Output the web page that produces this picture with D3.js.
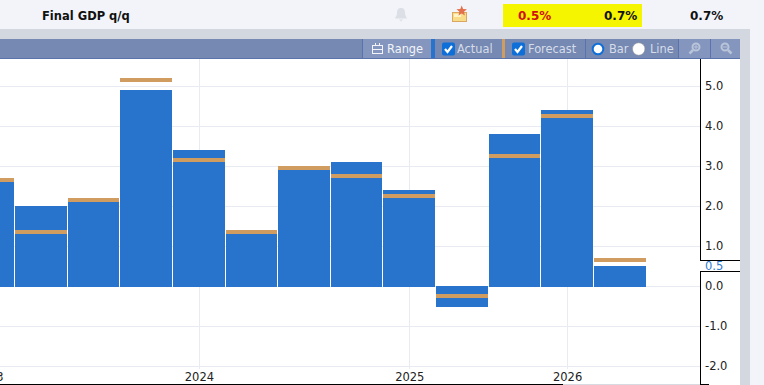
<!DOCTYPE html>
<html>
<head>
<meta charset="utf-8">
<script src="https://cdn.jsdelivr.net/npm/d3@7"></script>
<style>
  html, body { margin: 0; padding: 0; background: #f3f4f9; overflow: hidden; }
  text { font-family: "DejaVu Sans", sans-serif; }
</style>
</head>
<body>
<svg id="chart" width="764" height="385"></svg>
<script>
const quarters = ['2023a', '2023b', '2023c', '2023d', '2024a', '2024b', '2024c', '2024d', '2025a', '2025b', '2025c', '2026a', '2026b'];
const actual = [2.6, 2.0, 2.1, 4.9, 3.4, 1.3, 2.9, 3.1, 2.4, -0.5, 3.8, 4.4, 0.5];
const forecast = [2.7, 1.4, 2.2, 5.2, 3.2, 1.4, 3.0, 2.8, 2.3, -0.2, 3.3, 4.3, 0.7];
const yTicks = [5, 4, 3, 2, 1, 0, -1, -2];
const yearTicks = [['2023a', '2023'], ['2024a', '2024'], ['2025a', '2025'], ['2026a', '2026']];

const svg = d3.select('#chart');

// page frame
svg.append('rect').attr('x', 0).attr('y', 29).attr('width', 750).attr('height', 356).attr('fill', '#d3d7e0');
svg.append('rect').attr('x', 0).attr('y', 59).attr('width', 740).attr('height', 326).attr('fill', '#fff');

const x = d3.scaleBand()
  .domain(quarters)
  .range([-37.3, 646.5]);
const y = d3.scaleLinear()
  .domain([-2, 5])
  .range([366, 86]);
const barLeft = q => Math.round(x(q));
const barWidth = q => Math.round(x(q) + x.step()) - Math.round(x(q)) - 1;

// grid
const grid = svg.append('g').attr('stroke', '#e9ebf3').attr('stroke-width', 1);
grid.selectAll('line.h')
  .data(yTicks)
  .enter().append('line')
  .attr('class', 'h')
  .attr('x1', 0).attr('x2', 700)
  .attr('y1', d => y(d) + 0.5).attr('y2', d => y(d) + 0.5);
grid.selectAll('line.v')
  .data(yearTicks)
  .enter().append('line')
  .attr('class', 'v')
  .attr('x1', d => Math.floor(x(d[0]) + x.step() / 2) + 0.5)
  .attr('x2', d => Math.floor(x(d[0]) + x.step() / 2) + 0.5)
  .attr('y1', 59).attr('y2', 369);

// bars
svg.selectAll('rect.actual')
  .data(actual)
  .enter().append('rect')
  .attr('class', 'actual')
  .attr('x', (d, i) => barLeft(quarters[i]))
  .attr('width', (d, i) => barWidth(quarters[i]))
  .attr('y', d => Math.min(y(d), y(0)))
  .attr('height', d => Math.abs(y(d) - y(0)) + 1)
  .attr('fill', '#2874cc');
svg.selectAll('rect.forecast')
  .data(forecast)
  .enter().append('rect')
  .attr('class', 'forecast')
  .attr('x', (d, i) => barLeft(quarters[i]))
  .attr('width', (d, i) => barWidth(quarters[i]))
  .attr('y', d => y(d))
  .attr('height', 4)
  .attr('fill', '#d19c60');

// year labels
svg.selectAll('text.year')
  .data(yearTicks)
  .enter().append('text')
  .attr('class', 'year')
  .attr('x', d => x(d[0]) + x.step() / 2)
  .attr('y', 381)
  .attr('text-anchor', 'middle')
  .attr('font-size', 11.5)
  .attr('fill', '#222')
  .text(d => d[1]);

// right axis
svg.append('line').attr('x1', 700.5).attr('x2', 700.5).attr('y1', 59).attr('y2', 385).attr('stroke', '#000');
svg.append('line').attr('x1', 0).attr('x2', 563).attr('y1', 384.5).attr('y2', 384.5).attr('stroke', '#000');
svg.append('line').attr('x1', 563).attr('x2', 700).attr('y1', 384.5).attr('y2', 384.5).attr('stroke', '#d8dae2');
svg.append('line').attr('x1', 700).attr('x2', 709).attr('y1', 384.5).attr('y2', 384.5).attr('stroke', '#000');
svg.selectAll('text.ytick')
  .data(yTicks)
  .enter().append('text')
  .attr('class', 'ytick')
  .attr('x', 705)
  .attr('y', d => y(d) + 4)
  .attr('font-size', 11.5)
  .attr('fill', '#222')
  .text(d => d.toFixed(1));

// last value tag
svg.append('rect').attr('x', 700).attr('y', 261).attr('width', 40).attr('height', 10).attr('fill', '#fff');
svg.append('line').attr('x1', 700).attr('x2', 740).attr('y1', 260.5).attr('y2', 260.5).attr('stroke', '#000');
svg.append('line').attr('x1', 700).attr('x2', 740).attr('y1', 271.5).attr('y2', 271.5).attr('stroke', '#000');
svg.append('text')
  .attr('x', 705).attr('y', 270)
  .attr('font-size', 11.5).attr('fill', '#2f7bd6')
  .text(actual[actual.length - 1].toFixed(1));

// toolbar
svg.append('rect').attr('x', 0).attr('y', 39).attr('width', 740).attr('height', 19).attr('fill', '#7589b2');
svg.append('rect').attr('x', 0).attr('y', 58).attr('width', 740).attr('height', 1).attr('fill', '#5a74ab');
svg.append('rect').attr('x', 363).attr('y', 39).attr('width', 68).attr('height', 19).attr('fill', '#8496bd');
svg.append('rect').attr('x', 431).attr('y', 39).attr('width', 4).attr('height', 19).attr('fill', '#2874cc');
svg.append('rect').attr('x', 502).attr('y', 39).attr('width', 3).attr('height', 19).attr('fill', '#d19c60');
svg.append('rect').attr('x', 679).attr('y', 39).attr('width', 61).attr('height', 19).attr('fill', '#8496bd');
[362, 585, 678, 710].forEach(d => {
  svg.append('rect').attr('x', d).attr('y', 39).attr('width', 1).attr('height', 19).attr('fill', '#5a74ab');
});

const toolbarLabels = [['Range', 387], ['Actual', 457], ['Forecast', 528], ['Bar', 609], ['Line', 650]];
svg.selectAll('text.tool')
  .data(toolbarLabels)
  .enter().append('text')
  .attr('class', 'tool')
  .attr('x', d => d[1]).attr('y', 53)
  .attr('font-size', 11.4)
  .attr('fill', (d, i) => i === 0 ? '#f2f4f9' : '#d6dcea')
  .text(d => d[0]);

// calendar icon
const cal = svg.append('g').attr('fill', 'none').attr('stroke', '#f2f4f9').attr('stroke-width', 1);
cal.append('rect').attr('x', 372.5).attr('y', 45.5).attr('width', 10).attr('height', 8);
cal.append('path').attr('d', 'M372.5 49.5H382.5M375.5 43V45M379.5 43V45');

// checkboxes
[442, 512].forEach(d => {
  svg.append('rect').attr('x', d).attr('y', 42.5).attr('width', 13).attr('height', 13).attr('rx', 2).attr('fill', '#0f6fd8');
  svg.append('path').attr('d', `M${d + 3} 49l2.5 3l4.5 -6`).attr('fill', 'none').attr('stroke', '#fff').attr('stroke-width', 2.2);
});

// radios
svg.append('circle').attr('cx', 598).attr('cy', 49).attr('r', 5.3).attr('fill', '#fff').attr('stroke', '#0f6fd8').attr('stroke-width', 2);
svg.append('circle').attr('cx', 638.7).attr('cy', 49).attr('r', 6.2).attr('fill', '#fff').attr('stroke', '#8c8c8c').attr('stroke-width', 0.5);

// zoom icons, handle goes left on the first and right on the second
[[696, -1, true], [725, 1, false]].forEach(d => {
  const g = svg.append('g').attr('fill', 'none').attr('stroke', '#b9c4da').attr('stroke-width', 2);
  g.append('circle').attr('cx', d[0]).attr('cy', 47).attr('r', 3.5);
  g.append('path').attr('d', `M${d[0] + d[1] * 3} 50l${d[1] * 3.5} 3.5`).attr('stroke-width', 2.5);
  g.append('path').attr('d', d[2] ? `M${d[0] - 2} 47h4M${d[0]} 45v4` : `M${d[0] - 2} 47h4`).attr('stroke-width', 1);
});

// header row
svg.append('text').attr('x', 42).attr('y', 20).attr('font-size', 11.5).attr('font-weight', 'bold').attr('fill', '#111').text('Final GDP q/q');
svg.append('rect').attr('x', 503).attr('y', 4).attr('width', 139).attr('height', 23).attr('fill', '#f5f500');
svg.append('text').attr('x', 518).attr('y', 20).attr('font-size', 12).attr('font-weight', 'bold').attr('fill', '#d01010').text('0.5%');
svg.append('text').attr('x', 604).attr('y', 20).attr('font-size', 12).attr('font-weight', 'bold').attr('fill', '#111').text('0.7%');
svg.append('text').attr('x', 690).attr('y', 20).attr('font-size', 12).attr('font-weight', 'bold').attr('fill', '#111').text('0.7%');

// bell
svg.append('path')
  .attr('d', 'M401 8c-3 0-4 2-4 5c0 2-1 3.500-2 5.500h12c-1-2-2-3.500-2-5.500c0-3-1-5-4-5zM399 19.500h4l-2 2z')
  .attr('fill', '#dcdfe6');

// folder with star
svg.append('rect').attr('x', 452.5).attr('y', 12.5).attr('width', 14).attr('height', 9).attr('fill', '#f8dc8a').attr('stroke', '#d9a760');
svg.append('rect').attr('x', 454).attr('y', 14).attr('width', 7).attr('height', 3).attr('fill', '#fff4c8');
svg.append('path')
  .attr('d', d3.range(10).map(i => {
    const r = i % 2 ? 2.4 : 5.5;
    const a = -Math.PI / 2 + i * Math.PI / 5;
    return `${i ? 'L' : 'M'}${(461.7 + r * Math.cos(a)).toFixed(1)} ${(11 + r * Math.sin(a)).toFixed(1)}`;
  }).join('') + 'Z')
  .attr('fill', '#e3704c');
</script>
</body>
</html>
